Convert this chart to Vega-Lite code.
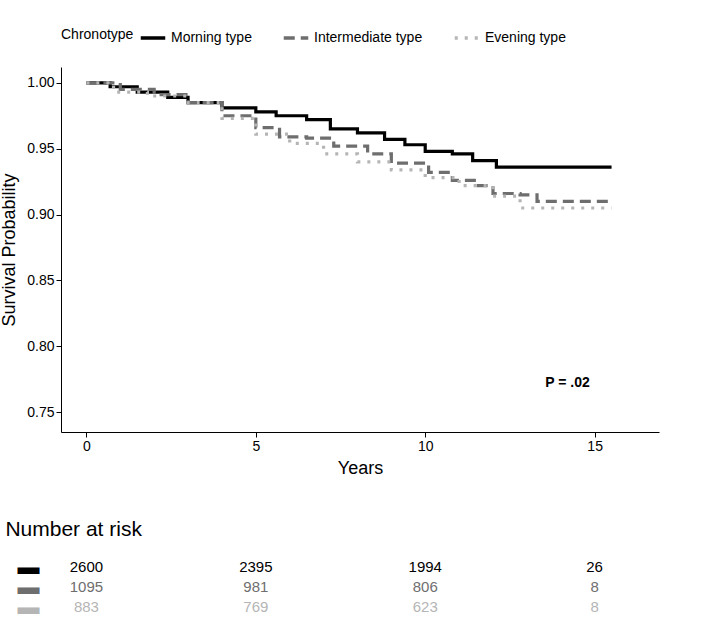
{
  "$schema": "https://vega.github.io/schema/vega-lite/v6.json",
  "padding": {"left": 0, "top": 24, "right": 8, "bottom": 5},
  "spacing": 42,
  "config": {"font": "Liberation Sans", "view": {"stroke": null}},
  "datasets": {
    "surv": [
      {"g": "Morning type", "t": 0, "s": 1.0},
      {"g": "Morning type", "t": 0.7, "s": 0.997},
      {"g": "Morning type", "t": 1.5, "s": 0.993},
      {"g": "Morning type", "t": 2.4, "s": 0.989},
      {"g": "Morning type", "t": 3.0, "s": 0.985},
      {"g": "Morning type", "t": 4.0, "s": 0.981},
      {"g": "Morning type", "t": 5.0, "s": 0.978},
      {"g": "Morning type", "t": 5.6, "s": 0.975},
      {"g": "Morning type", "t": 6.5, "s": 0.972},
      {"g": "Morning type", "t": 7.2, "s": 0.965},
      {"g": "Morning type", "t": 8.0, "s": 0.962},
      {"g": "Morning type", "t": 8.8, "s": 0.957},
      {"g": "Morning type", "t": 9.4, "s": 0.953},
      {"g": "Morning type", "t": 10.0, "s": 0.948},
      {"g": "Morning type", "t": 10.8, "s": 0.946},
      {"g": "Morning type", "t": 11.4, "s": 0.941},
      {"g": "Morning type", "t": 12.1, "s": 0.936},
      {"g": "Morning type", "t": 15.5, "s": 0.936},
      {"g": "Intermediate type", "t": 0, "s": 1.0},
      {"g": "Intermediate type", "t": 1.0, "s": 0.995},
      {"g": "Intermediate type", "t": 2.0, "s": 0.991},
      {"g": "Intermediate type", "t": 3.0, "s": 0.985},
      {"g": "Intermediate type", "t": 4.0, "s": 0.975},
      {"g": "Intermediate type", "t": 5.0, "s": 0.966},
      {"g": "Intermediate type", "t": 5.7, "s": 0.959},
      {"g": "Intermediate type", "t": 6.5, "s": 0.958},
      {"g": "Intermediate type", "t": 7.3, "s": 0.952},
      {"g": "Intermediate type", "t": 8.3, "s": 0.946},
      {"g": "Intermediate type", "t": 9.0, "s": 0.939},
      {"g": "Intermediate type", "t": 10.1, "s": 0.932},
      {"g": "Intermediate type", "t": 10.8, "s": 0.926},
      {"g": "Intermediate type", "t": 11.5, "s": 0.922},
      {"g": "Intermediate type", "t": 12.0, "s": 0.916},
      {"g": "Intermediate type", "t": 12.8, "s": 0.915},
      {"g": "Intermediate type", "t": 13.3, "s": 0.91},
      {"g": "Intermediate type", "t": 15.5, "s": 0.91},
      {"g": "Evening type", "t": 0, "s": 1.0},
      {"g": "Evening type", "t": 0.8, "s": 0.993},
      {"g": "Evening type", "t": 1.8, "s": 0.99},
      {"g": "Evening type", "t": 3.0, "s": 0.985},
      {"g": "Evening type", "t": 4.0, "s": 0.973},
      {"g": "Evening type", "t": 5.0, "s": 0.961},
      {"g": "Evening type", "t": 6.0, "s": 0.954},
      {"g": "Evening type", "t": 7.0, "s": 0.946},
      {"g": "Evening type", "t": 8.0, "s": 0.94},
      {"g": "Evening type", "t": 9.0, "s": 0.934},
      {"g": "Evening type", "t": 10.0, "s": 0.928},
      {"g": "Evening type", "t": 11.0, "s": 0.922},
      {"g": "Evening type", "t": 12.0, "s": 0.914},
      {"g": "Evening type", "t": 12.8, "s": 0.905},
      {"g": "Evening type", "t": 15.5, "s": 0.905}
    ],
    "risk": [
      {"g": "Morning type", "t": 0, "n": 2600},
      {"g": "Morning type", "t": 5, "n": 2395},
      {"g": "Morning type", "t": 10, "n": 1994},
      {"g": "Morning type", "t": 15, "n": 26},
      {"g": "Intermediate type", "t": 0, "n": 1095},
      {"g": "Intermediate type", "t": 5, "n": 981},
      {"g": "Intermediate type", "t": 10, "n": 806},
      {"g": "Intermediate type", "t": 15, "n": 8},
      {"g": "Evening type", "t": 0, "n": 883},
      {"g": "Evening type", "t": 5, "n": 769},
      {"g": "Evening type", "t": 10, "n": 623},
      {"g": "Evening type", "t": 15, "n": 8}
    ]
  },
  "vconcat": [
    {
      "width": 598,
      "height": 365,
      "layer": [
        {
          "data": {"name": "surv"},
          "mark": {"type": "line", "interpolate": "step-after", "strokeWidth": 3.2},
          "encoding": {
            "x": {"field": "t", "type": "quantitative", "scale": {"domain": [-0.75, 16.9], "nice": false, "zero": false},
              "axis": {"values": [0, 5, 10, 15], "title": "Years", "titleFontSize": 18, "titleFontWeight": "normal", "labelFontSize": 14, "grid": false, "domainColor": "black", "tickColor": "black", "labelColor": "black", "titlePadding": 6}},
            "y": {"field": "s", "type": "quantitative", "scale": {"domain": [0.735, 1.012], "nice": false, "zero": false},
              "axis": {"values": [0.75, 0.8, 0.85, 0.9, 0.95, 1.0], "format": ".2f", "title": "Survival Probability", "titleFontSize": 18, "titleFontWeight": "normal", "labelFontSize": 14, "grid": false, "domainColor": "black", "tickColor": "black", "labelColor": "black", "titlePadding": 8}},
            "color": {"field": "g", "type": "nominal", "sort": ["Morning type", "Intermediate type", "Evening type"],
              "scale": {"domain": ["Morning type", "Intermediate type", "Evening type"], "range": ["#000000", "#6e6e6e", "#b5b5b5"]},
              "legend": {"orient": "top", "direction": "horizontal", "title": "Chronotype", "titleOrient": "left", "titleFontWeight": "normal", "titleFontSize": 14, "labelFontSize": 14, "symbolType": "stroke", "symbolStrokeWidth": 3.5, "symbolSize": 600, "columnPadding": 24, "offset": 22}},
            "strokeDash": {"field": "g", "type": "nominal",
              "scale": {"domain": ["Morning type", "Intermediate type", "Evening type"], "range": [[1, 0], [11, 6], [3, 7]]},
              "legend": null}
          }
        },
        {
          "data": {"values": [{"t": 14.2, "s": 0.772, "label": "P = .02"}]},
          "mark": {"type": "text", "fontWeight": "bold", "fontSize": 14},
          "encoding": {
            "x": {"field": "t", "type": "quantitative"},
            "y": {"field": "s", "type": "quantitative"},
            "text": {"field": "label"}
          }
        }
      ]
    },
    {
      "width": 598,
      "height": 60,
      "title": {"text": "Number at risk", "anchor": "start", "fontSize": 21, "fontWeight": "normal", "offset": 16, "dx": -12},
      "data": {"name": "risk"},
      "layer": [
        {
          "mark": {"type": "text", "fontSize": 15},
          "encoding": {"text": {"field": "n"}}
        },
        {
          "transform": [{"filter": "datum.t == 0"}],
          "mark": {"type": "text", "fontSize": 22, "dx": -58, "text": "▬"},
          "encoding": {}
        }
      ],
      "encoding": {
        "x": {"field": "t", "type": "quantitative", "scale": {"domain": [-0.75, 16.9], "nice": false, "zero": false}, "axis": null},
        "y": {"field": "g", "type": "nominal", "sort": ["Morning type", "Intermediate type", "Evening type"], "axis": null},
        "color": {"field": "g", "type": "nominal", "scale": {"domain": ["Morning type", "Intermediate type", "Evening type"], "range": ["#000000", "#6e6e6e", "#b5b5b5"]}, "legend": null}
      }
    }
  ]
}
